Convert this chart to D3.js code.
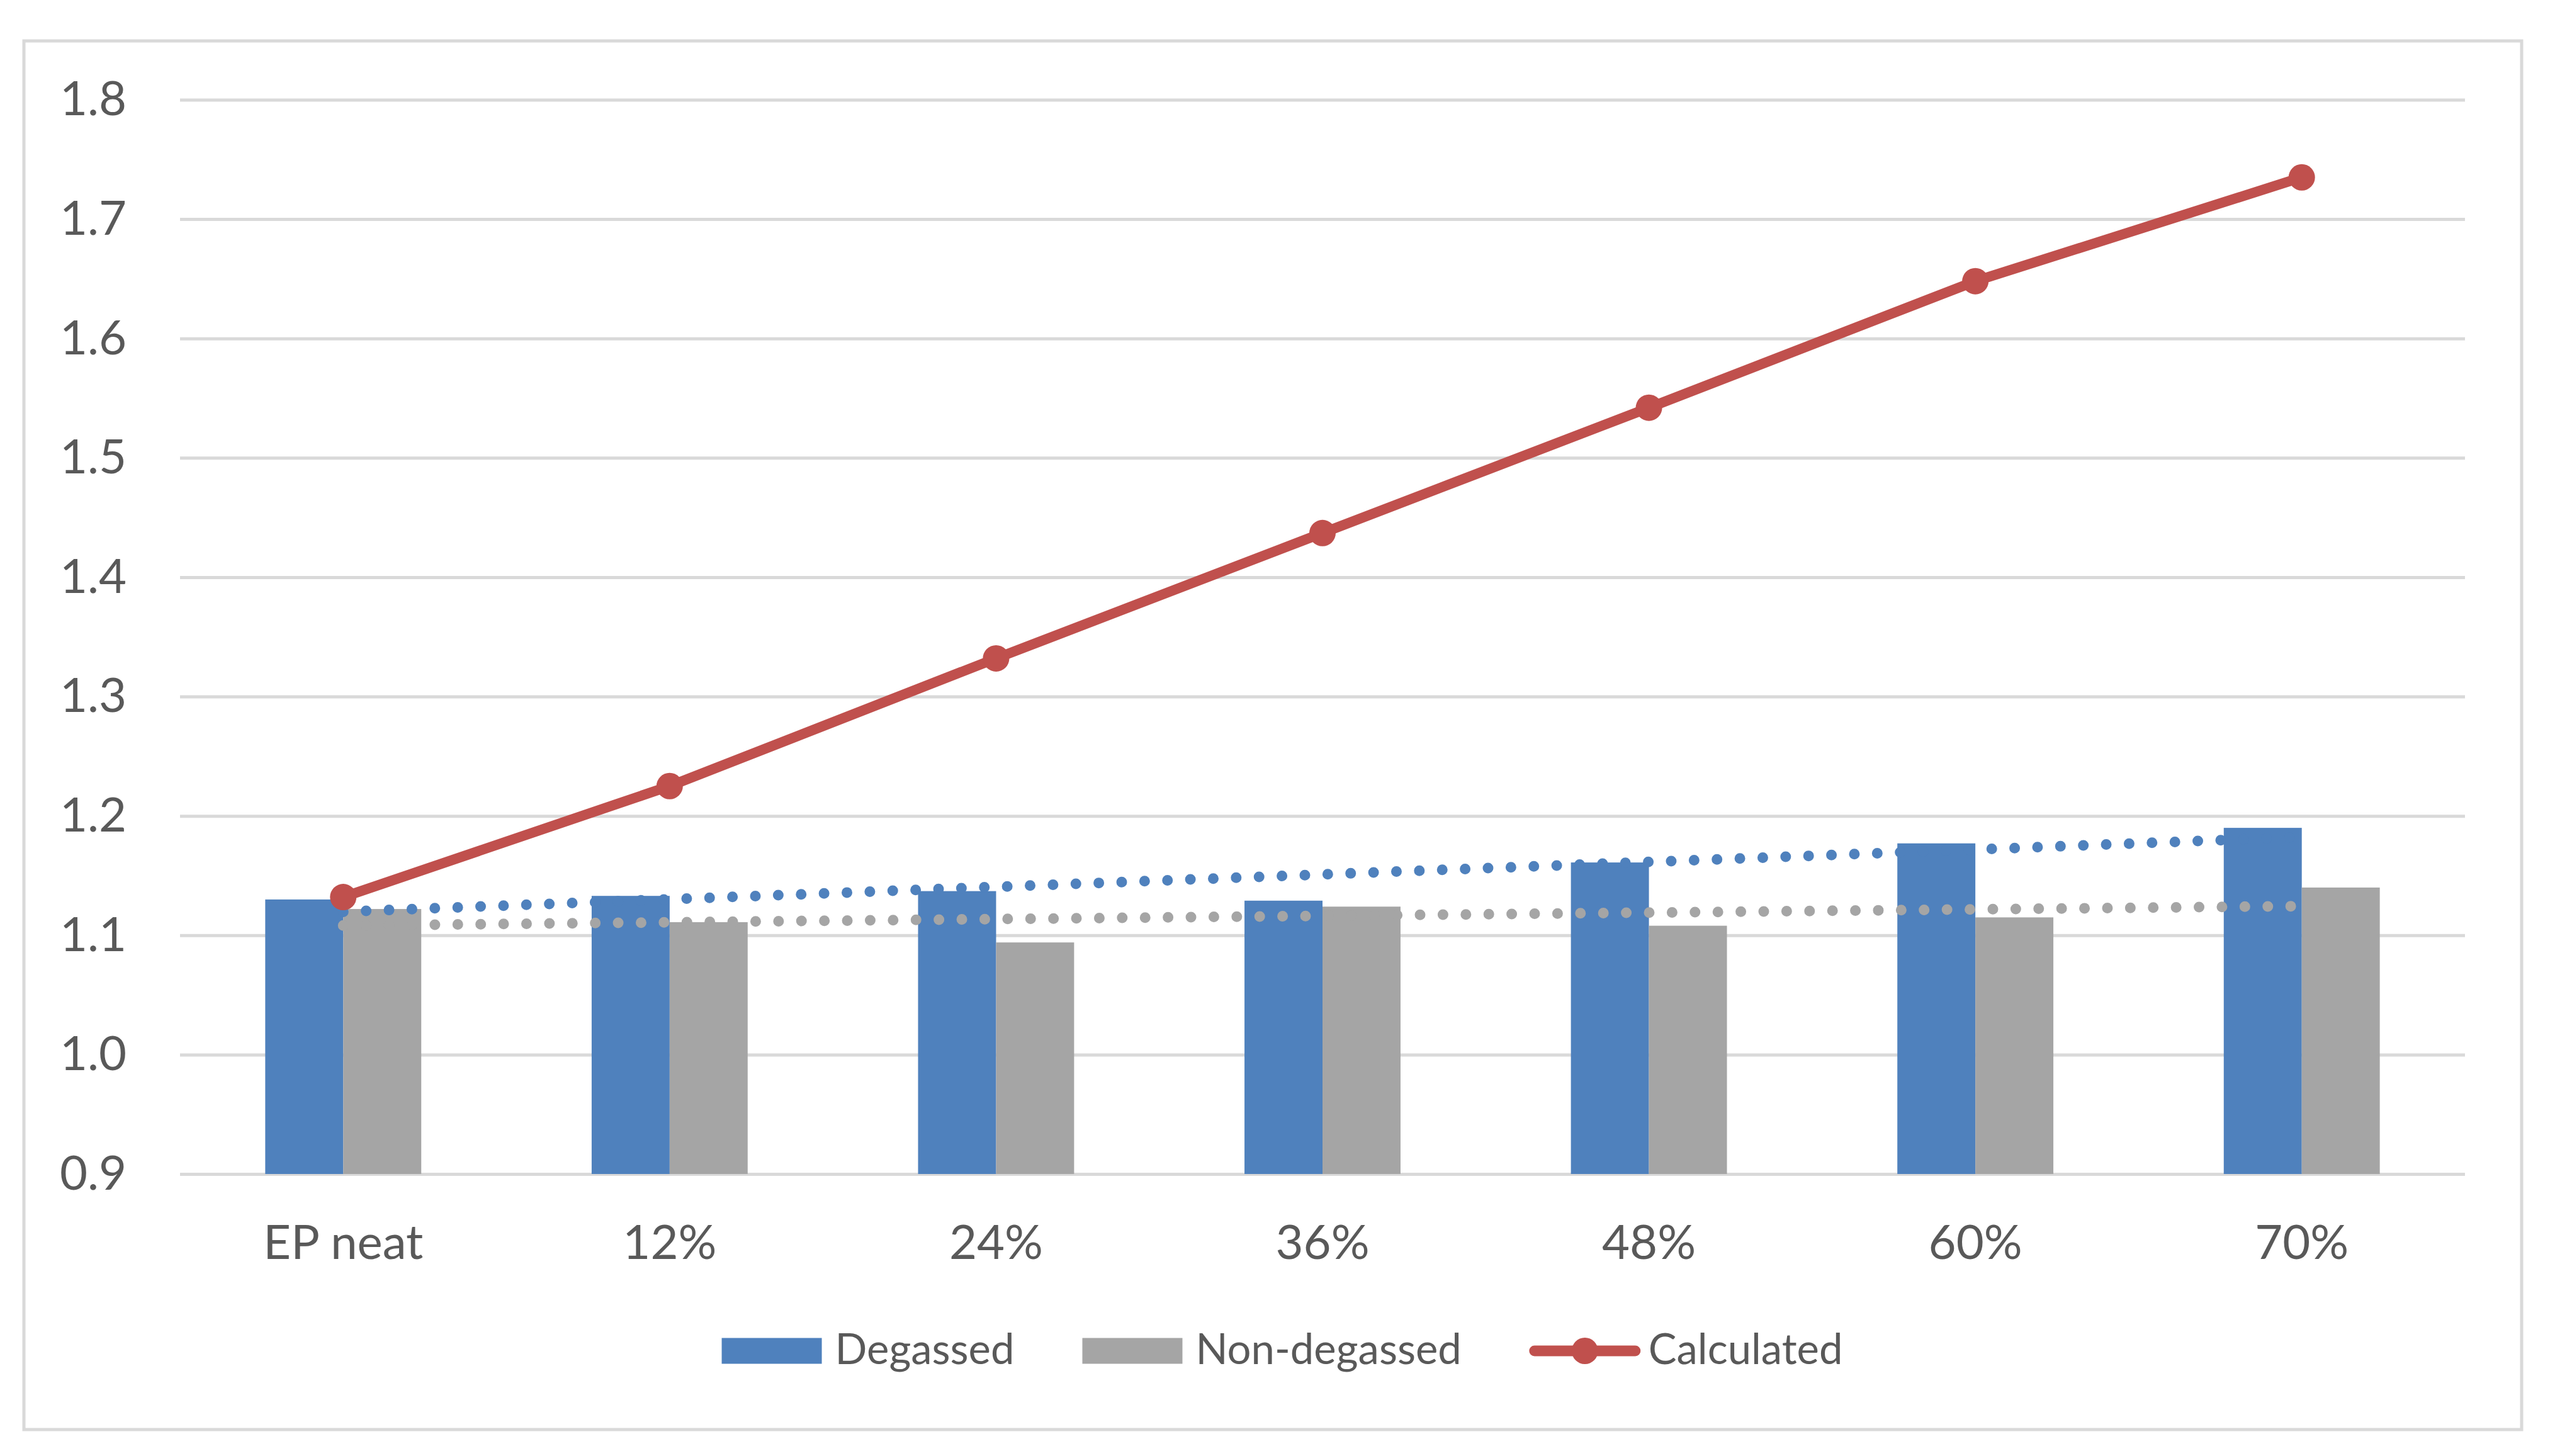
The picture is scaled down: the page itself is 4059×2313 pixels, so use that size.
<!DOCTYPE html>
<html>
<head>
<meta charset="utf-8">
<script src="https://cdn.jsdelivr.net/npm/d3@7"></script>
<style>
  html, body { margin: 0; padding: 0; background: #fff; }
  svg { display: block; font-family: Lato, "Open Sans", sans-serif; }
</style>
</head>
<body>
<svg id="chart" width="4059" height="2313"></svg>
<script>
// --- data ---
const categories = ['EP neat', '12%', '24%', '36%', '48%', '60%', '70%'];
const degassed = [1.130, 1.133, 1.137, 1.129, 1.161, 1.177, 1.190];
const nonDegassed = [1.122, 1.111, 1.094, 1.124, 1.108, 1.115, 1.140];
const calculated = [1.132, 1.225, 1.332, 1.437, 1.542, 1.648, 1.735];
const yTicks = [0.9, 1.0, 1.1, 1.2, 1.3, 1.4, 1.5, 1.6, 1.7, 1.8];
const seriesNames = ['Degassed', 'Non-degassed', 'Calculated'];

const colors = { blue: '#4F81BD', gray: '#A5A5A5', red: '#C0504D', grid: '#D9D9D9', text: '#595959' };

const svg = d3.select('#chart');
const plot = { left: 286, right: 3916, top: 158.5, bottom: 1865 };

// outer chart border
svg.append('rect')
    .attr('x', 38).attr('y', 65)
    .attr('width', 3968).attr('height', 2206)
    .attr('fill', '#fff')
    .attr('stroke', colors.grid).attr('stroke-width', 5);

const y = d3.scaleLinear().domain([0.9, 1.8]).range([plot.bottom, plot.top]);
const x = d3.scaleBand().domain(categories)
    .range([plot.left, plot.right])
    .paddingInner(0.522).paddingOuter(0.261);
const xSub = d3.scaleBand().domain([0, 1]).range([0, x.bandwidth()]);
const cx = c => x(c) + x.bandwidth() / 2;

// y axis + gridlines
const yAxis = svg.append('g')
    .attr('transform', `translate(${plot.left},0)`)
    .call(d3.axisLeft(y).tickValues(yTicks).tickFormat(d3.format('.1f'))
        .tickSizeInner(-(plot.right - plot.left)).tickSizeOuter(0).tickPadding(85));
yAxis.select('.domain').remove();
yAxis.selectAll('line').attr('stroke', colors.grid).attr('stroke-width', 5);
yAxis.selectAll('text').attr('fill', colors.text).attr('font-size', 76).attr('font-family', 'Lato');

// x axis labels
const xAxis = svg.append('g')
    .attr('transform', `translate(0,${plot.bottom})`)
    .call(d3.axisBottom(x).tickSize(0).tickPadding(81));
xAxis.select('.domain').remove();
xAxis.selectAll('text').attr('fill', colors.text).attr('font-size', 76).attr('font-family', 'Lato');

// bars
const barSeries = [
    { values: degassed, color: colors.blue },
    { values: nonDegassed, color: colors.gray }
];
barSeries.forEach((s, si) => {
    svg.append('g').selectAll('rect')
        .data(s.values)
        .join('rect')
        .attr('x', (d, i) => x(categories[i]) + xSub(si))
        .attr('width', xSub.bandwidth())
        .attr('y', d => y(d))
        .attr('height', d => y(0.9) - y(d))
        .attr('fill', s.color);
});

// linear trendlines (least squares on category index, like Excel)
function fit(values) {
    const n = values.length;
    const xs = values.map((d, i) => i + 1);
    const mx = d3.mean(xs), my = d3.mean(values);
    const sxy = d3.sum(xs, (xv, i) => (xv - mx) * (values[i] - my));
    const sxx = d3.sum(xs, xv => (xv - mx) ** 2);
    const b = sxy / sxx, a = my - b * mx;
    return [a + b * 1, a + b * n];
}
const line2 = d3.line().x(d => d[0]).y(d => y(d[1]));
barSeries.forEach(s => {
    const [y0, y1] = fit(s.values);
    svg.append('path')
        .attr('d', line2([[cx(categories[0]), y0], [cx(categories[categories.length - 1]), y1]]))
        .attr('fill', 'none')
        .attr('stroke', s.color)
        .attr('stroke-width', 17)
        .attr('stroke-linecap', 'round')
        .attr('stroke-dasharray', '0 36.4');
});

// calculated line
const calcLine = d3.line().x((d, i) => cx(categories[i])).y(d => y(d));
svg.append('path')
    .datum(calculated)
    .attr('d', calcLine)
    .attr('fill', 'none')
    .attr('stroke', colors.red)
    .attr('stroke-width', 16)
    .attr('stroke-linejoin', 'round');
svg.append('g').selectAll('circle')
    .data(calculated)
    .join('circle')
    .attr('cx', (d, i) => cx(categories[i]))
    .attr('cy', d => y(d))
    .attr('r', 21)
    .attr('fill', colors.red);

// legend
const legend = svg.append('g');
const legendY = 2146;
const swatchW = 159, itemGap = 108;
let lx = 0;
seriesNames.forEach((name, i) => {
    const g = legend.append('g');
    let textX;
    if (i < 2) {
        g.append('rect').attr('x', 0).attr('y', -20.5).attr('width', swatchW).attr('height', 41)
            .attr('fill', i === 0 ? colors.blue : colors.gray);
        textX = swatchW + 21;
    } else {
        g.append('line').attr('x1', 8).attr('x2', 168).attr('y1', 0).attr('y2', 0)
            .attr('stroke', colors.red).attr('stroke-width', 17).attr('stroke-linecap', 'round');
        g.append('circle').attr('cx', 88).attr('cy', 0).attr('r', 21).attr('fill', colors.red);
        textX = 189;
    }
    const t = g.append('text').attr('x', textX).attr('y', 21)
        .attr('fill', colors.text).attr('font-size', 67).attr('font-family', 'Lato')
        .text(name);
    const w = textX + t.node().getComputedTextLength();
    g.attr('transform', `translate(${lx},${legendY})`);
    lx += w + itemGap;
});
const legendW = lx - itemGap;
legend.attr('transform', `translate(${2037 - legendW / 2},0)`);
</script>
</body>
</html>
